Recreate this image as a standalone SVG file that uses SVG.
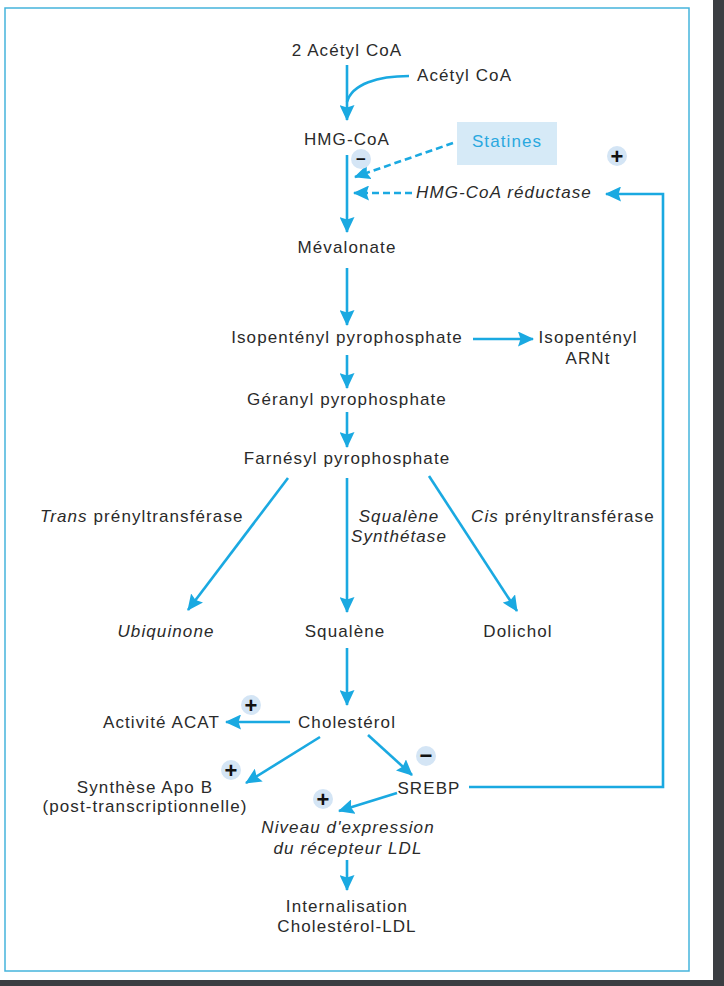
<svg xmlns="http://www.w3.org/2000/svg" width="724" height="986" viewBox="0 0 724 986">
<defs>
<marker id="ah" viewBox="0 0 16 15" refX="15" refY="7.5" markerWidth="16" markerHeight="15" markerUnits="userSpaceOnUse" orient="auto">
<path d="M0,0 L16,7.5 L0,15 L2.5,7.5 z" fill="#1AA9E1"/>
</marker>
<style>
text{font-family:"Liberation Sans",Arial,sans-serif;font-size:17px;fill:#2a2a2a;letter-spacing:1.1px}
.m{text-anchor:middle}
.i{font-style:italic}
.ln{stroke:#1AA9E1;stroke-width:2.6;fill:none}
.arr{marker-end:url(#ah)}
.d{stroke-dasharray:7 4}
.sc{fill:#D4E5F5}
.sg{font-weight:bold;font-size:22px;fill:#111;text-anchor:middle;letter-spacing:0}
.sm{font-size:17px}
</style>
</defs>
<rect x="0" y="0" width="724" height="986" fill="#fff"/>
<rect x="713" y="0" width="11" height="986" fill="#3b3e42"/>
<rect x="0" y="980" width="724" height="6" fill="#3b3e42"/>
<rect x="5" y="8" width="684" height="963" fill="#fff" stroke="#45B4DC" stroke-width="1.5"/>

<g id="connectors">
<line class="ln arr" x1="347" y1="65" x2="347" y2="120"/>
<path class="ln" d="M409,76 C378,76 352,84 347,102"/>
<line class="ln arr" x1="347" y1="155" x2="347" y2="232"/>
<line class="ln arr d" x1="453" y1="143" x2="355" y2="177"/>
<line class="ln arr d" x1="412" y1="193" x2="354" y2="193"/>
<polyline class="ln arr" points="469,787 663,787 663,194 606,194"/>
<line class="ln arr" x1="347" y1="268" x2="347" y2="325"/>
<line class="ln arr" x1="473" y1="339" x2="533" y2="339"/>
<line class="ln arr" x1="347" y1="355" x2="347" y2="388"/>
<line class="ln arr" x1="347" y1="412" x2="347" y2="447"/>
<line class="ln arr" x1="288" y1="478" x2="188" y2="610"/>
<line class="ln arr" x1="347" y1="478" x2="347" y2="612"/>
<line class="ln arr" x1="429" y1="476" x2="517" y2="611"/>
<line class="ln arr" x1="347" y1="648" x2="347" y2="705"/>
<line class="ln arr" x1="290" y1="722" x2="226" y2="722"/>
<line class="ln arr" x1="320" y1="737" x2="246" y2="783"/>
<line class="ln arr" x1="368" y1="735" x2="412" y2="775"/>
<line class="ln arr" x1="397" y1="793" x2="339" y2="811"/>
<line class="ln arr" x1="347" y1="860" x2="347" y2="890"/>
</g>

<g id="n-acetyl2"><text class="m" x="347" y="56">2 Acétyl CoA</text></g>
<g id="n-acetyl"><text x="417" y="81">Acétyl CoA</text></g>
<g id="n-hmgcoa"><text class="m" x="347" y="145">HMG-CoA</text></g>
<g id="n-statines">
<rect x="457" y="122" width="100" height="43" fill="#D6EAF7"/>
<text class="m" x="507" y="147" style="fill:#2AA8DF">Statines</text>
</g>
<g id="s-minus1"><circle class="sc" cx="361" cy="159" r="10"/><text class="sg sm" x="361" y="165">−</text></g>
<g id="s-plus1"><circle class="sc" cx="617" cy="156" r="10"/><text class="sg" x="617" y="164">+</text></g>
<g id="n-reductase"><text class="i" x="416" y="198">HMG-CoA réductase</text></g>
<g id="n-mevalonate"><text class="m" x="347" y="253">Mévalonate</text></g>
<g id="n-ipp"><text class="m" x="347" y="343">Isopentényl pyrophosphate</text></g>
<g id="n-iparnt"><text class="m" x="588" y="343">Isopentényl</text><text class="m" x="588" y="364">ARNt</text></g>
<g id="n-gpp"><text class="m" x="347" y="405">Géranyl pyrophosphate</text></g>
<g id="n-fpp"><text class="m" x="347" y="464">Farnésyl pyrophosphate</text></g>
<g id="l-trans"><text x="40" y="522"><tspan class="i">Trans</tspan> prényltransférase</text></g>
<g id="l-squal"><text class="m i" x="399" y="522">Squalène</text><text class="m i" x="399" y="542">Synthétase</text></g>
<g id="l-cis"><text x="471" y="522"><tspan class="i">Cis</tspan> prényltransférase</text></g>
<g id="n-ubiquinone"><text class="m i" x="166" y="637">Ubiquinone</text></g>
<g id="n-squalene"><text class="m" x="345" y="637">Squalène</text></g>
<g id="n-dolichol"><text class="m" x="518" y="637">Dolichol</text></g>
<g id="n-cholesterol"><text class="m" x="347" y="728">Cholestérol</text></g>
<g id="n-acat"><text x="103" y="728">Activité ACAT</text></g>
<g id="s-plus2"><circle class="sc" cx="251" cy="705" r="10"/><text class="sg" x="251" y="713">+</text></g>
<g id="n-apob"><text class="m" x="145" y="793">Synthèse Apo B</text><text class="m" x="145" y="812">(post-transcriptionnelle)</text></g>
<g id="s-plus3"><circle class="sc" cx="231" cy="770" r="10"/><text class="sg" x="231" y="778">+</text></g>
<g id="n-srebp"><text class="m" x="429" y="794">SREBP</text></g>
<g id="s-minus2"><circle class="sc" cx="426" cy="756" r="10"/><text class="sg" x="426" y="763">−</text></g>
<g id="s-plus4"><circle class="sc" cx="323" cy="799" r="10"/><text class="sg" x="323" y="807">+</text></g>
<g id="n-ldlr"><text class="m i" x="348" y="833">Niveau d'expression</text><text class="m i" x="348" y="854">du récepteur LDL</text></g>
<g id="n-intern"><text class="m" x="347" y="912">Internalisation</text><text class="m" x="347" y="932">Cholestérol-LDL</text></g>
</svg>
